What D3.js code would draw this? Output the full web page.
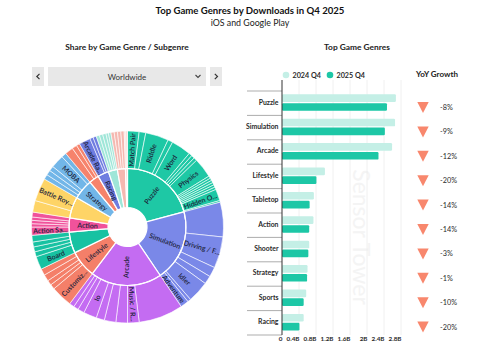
<!DOCTYPE html>
<html><head><meta charset="utf-8">
<script src="https://cdn.jsdelivr.net/npm/d3@7"></script>
<style>
html,body{margin:0;padding:0;background:#fff;}
svg{display:block;font-family:Lato,"Open Sans",sans-serif;}
</style></head>
<body>
<svg id="c" width="500" height="349"></svg>
<script>
// ---------- Bar chart data ----------
const genres = ["Puzzle","Simulation","Arcade","Lifestyle","Tabletop","Action","Shooter","Strategy","Sports","Racing"];
const downloads2024 = [2.68,2.66,2.59,1.01,0.75,0.74,0.64,0.60,0.57,0.51];
const downloads2025 = [2.47,2.42,2.27,0.81,0.65,0.64,0.62,0.59,0.51,0.41];
const yoyGrowth = [-8,-9,-12,-20,-14,-14,-3,-1,-10,-20];
const seriesNames = ["2024 Q4","2025 Q4"];
const tickValues = [0,0.4,0.8,1.2,1.6,2,2.4,2.8];
const tickLabels = ["0","0.4B","0.8B","1.2B","1.6B","2B","2.4B","2.8B"];

// ---------- Sunburst data (share, in degrees of the circle) ----------
const sunGenres = ["Puzzle","Simulation","Arcade","Lifestyle","Tabletop","Action","Shooter","Strategy","Sports","Racing","RPG","Casino","Other"];
const sunGenreLabelShown = [true,true,true,true,false,true,false,true,false,true,false,false,false];
const sunColors = ["#1ec8a5","#7a88e8","#c46cf2","#f47f69","#17c2a2","#f0529b","#fed466","#72b6e8","#f6836c","#6f7de0","#9fe6d8","#f5b8b0","#f9d6d0"];
const subPuzzle = [["Match Pair",7],["",4],["Riddle",14],["",3],["Word",12],["",2],["",2],["",2],["Physics",12],["",1.5],["",1.5],["",1.5],["",1.5],["",1.5],["",1.5],["Hidden O...",7],["",1]];
const subSimulation = [["",21],["Driving / F...",19],["",6],["",5],["Idler",13],["",2],["Adventure",5]];
const subArcade = [["",27],["Music / R...",7],["",7],["",7],["",5],["Io",8],["",4],["",3],["",3]];
const subLifestyle = [["Customiz...",13],["",3],["",3],["",4],["",4]];
const subTabletop = [["Board",8],["",3],["",3],["",3],["",4]];
const subAction = [["Action Sa...",5],["",2],["",2],["",2],["",3]];
const subShooter = [["",7],["Battle Roy...",14]];
const subStrategy = [["",3],["",3],["",3],["MOBA",8],["",3]];
const subSports = [["",5],["",3],["",2]];
const subRacing = [["Arcade Ra...",7],["",2],["",2]];
const subRPG = [["",2],["",2],["",2],["",1.5],["",1.5]];
const subCasino = [["",2],["",2],["",2],["",2]];
const subOther = [["",1],["",1]];
const subLists = [subPuzzle,subSimulation,subArcade,subLifestyle,subTabletop,subAction,subShooter,subStrategy,subSports,subRacing,subRPG,subCasino,subOther];

const svg = d3.select("#c");
const dark = "#2b2b2b";

// ---------- Titles ----------
svg.append("text").attr("x",250).attr("y",13.5).attr("text-anchor","middle")
  .attr("font-size",9.6).attr("font-weight",700).attr("fill","#111").text("Top Game Genres by Downloads in Q4 2025");
svg.append("text").attr("x",250).attr("y",26).attr("text-anchor","middle")
  .attr("font-size",8.8).attr("fill","#222").text("iOS and Google Play");
svg.append("text").attr("x",127).attr("y",49.5).attr("text-anchor","middle")
  .attr("font-size",8.4).attr("font-weight",700).attr("fill","#222").text("Share by Game Genre / Subgenre");
svg.append("text").attr("x",357).attr("y",49.5).attr("text-anchor","middle")
  .attr("font-size",8.4).attr("font-weight",700).attr("fill","#222").text("Top Game Genres");

// ---------- Dropdown ----------
const dd = svg.append("g");
dd.append("rect").attr("x",32).attr("y",67).attr("width",12).attr("height",19).attr("fill","#e8e8e8");
dd.append("rect").attr("x",48).attr("y",67).attr("width",158).attr("height",19).attr("fill","#e8e8e8");
dd.append("rect").attr("x",210).attr("y",67).attr("width",12).attr("height",19).attr("fill","#e8e8e8");
dd.append("path").attr("d","M39.5,73.8 L36.8,76.5 L39.5,79.2").attr("fill","none").attr("stroke","#333").attr("stroke-width",1.2);
dd.append("path").attr("d","M214.8,73.8 L217.5,76.5 L214.8,79.2").attr("fill","none").attr("stroke","#333").attr("stroke-width",1.2);
dd.append("path").attr("d","M195.5,75 L198,77.5 L200.5,75").attr("fill","none").attr("stroke","#444").attr("stroke-width",1.1);
dd.append("text").attr("x",127).attr("y",79.5).attr("text-anchor","middle").attr("font-size",8).attr("fill","#333").text("Worldwide");

// ---------- Sunburst ----------
const cx = 127.5, cy = 227;
const radii = [0, 19.5, 58.5, 96];
const rootData = {name:"root", children: sunGenres.map((g,i)=>({
  name:g, color:sunColors[i], showLabel:sunGenreLabelShown[i],
  children: subLists[i].map(s=>({name:s[0], value:s[1], color:sunColors[i]}))
}))};
const root = d3.hierarchy(rootData).sum(d=>d.children?0:d.value);
d3.partition().size([2*Math.PI, 3])(root);
const arc = d3.arc()
  .startAngle(d=>d.x0).endAngle(d=>d.x1)
  .innerRadius(d=>radii[d.depth]).outerRadius(d=>radii[d.depth+1]);
const sg = svg.append("g").attr("transform",`translate(${cx},${cy})`);
const nodes = root.descendants().filter(d=>d.depth>0);
sg.selectAll("path.seg").data(nodes).join("path").attr("class","seg")
  .attr("d",arc).attr("fill",d=>d.data.color)
  .attr("stroke","#fff").attr("stroke-width",d=>d.depth===1?1.2:0.6);
sg.append("circle").attr("r",radii[2]).attr("fill","none").attr("stroke","#fff").attr("stroke-width",1.2);

const labelNodes = nodes.filter(d=> d.depth===1 ? d.data.showLabel : d.data.name);
sg.selectAll("text.lab").data(labelNodes).join("text").attr("class","lab")
  .attr("transform",d=>{
    const a = (d.x0+d.x1)/2*180/Math.PI;
    const r = (radii[d.depth]+radii[d.depth+1])/2 + (d.depth===1?1:0);
    return `rotate(${a-90}) translate(${r},0) rotate(${a<180?0:180})`;
  })
  .attr("text-anchor","middle").attr("dy","0.35em")
  .attr("font-size",7).attr("font-weight",600).attr("fill","#1c1f3a")
  .text(d=>d.data.name);

// ---------- Bar chart ----------
const x = d3.scaleLinear().domain([0,3]).range([282, 409.5]);
const y = d3.scaleBand().domain(genres).range([91, 335]);
const ySub = d3.scaleBand().domain(seriesNames).range([3.3, 19.8]).paddingInner(0.14);
const barColors = ["#c4efe6","#1dc7a6"];

// watermark
svg.append("text").attr("transform","translate(353,237) rotate(90)")
  .attr("text-anchor","middle").attr("font-size",23).attr("fill","#f4f4f4").text("Sensor Tower");

// grid
svg.append("g").selectAll("line").data(tickValues.slice(1)).join("line")
  .attr("x1",d=>x(d)).attr("x2",d=>x(d)).attr("y1",80).attr("y2",335)
  .attr("stroke","#ececec").attr("stroke-width",0.8);

// category separators
svg.append("g").selectAll("line").data(d3.range(genres.length+1)).join("line")
  .attr("x1",247).attr("x2",282)
  .attr("y1",i=> i<genres.length ? y(genres[i]) : y.range()[1])
  .attr("y2",i=> i<genres.length ? y(genres[i]) : y.range()[1])
  .attr("stroke","#8a8a8a").attr("stroke-width",0.7);

// bars
const vals = [downloads2024, downloads2025];
seriesNames.forEach((s,si)=>{
  svg.append("g").selectAll("rect").data(genres).join("rect")
    .attr("x",x(0)).attr("y",g=>y(g)+ySub(s))
    .attr("width",(g,i)=>x(vals[si][i])-x(0)).attr("height",ySub.bandwidth())
    .attr("rx",1.2).attr("fill",barColors[si]);
});

// y axis line
svg.append("line").attr("x1",282).attr("x2",282).attr("y1",80).attr("y2",335)
  .attr("stroke","#333").attr("stroke-width",1);

// category labels
svg.append("g").selectAll("text").data(genres).join("text")
  .attr("x",278.5).attr("y",g=>y(g)+y.bandwidth()/2-1).attr("dy","0.35em")
  .attr("text-anchor","end").attr("font-size",6.9).attr("font-weight",700).attr("fill",dark).text(g=>g);

// x axis ticks
const xAxis = d3.axisBottom(x).tickValues(tickValues).tickSize(0).tickPadding(0)
  .tickFormat((d,i)=>tickLabels[i]);
const xa = svg.append("g").attr("transform","translate(0,337)").call(xAxis);
xa.select(".domain").remove();
xa.selectAll("text").attr("text-anchor","end").attr("dx",0).attr("dy","0.6em")
  .attr("font-size",6.3).attr("font-weight",700).attr("fill",dark).attr("font-family","Lato,sans-serif");

// legend
seriesNames.forEach((s,i)=>{
  const lx = [286,330][i];
  svg.append("circle").attr("cx",lx).attr("cy",75).attr("r",3.3).attr("fill",barColors[i]);
  svg.append("text").attr("x",lx+6.5).attr("y",75).attr("dy","0.35em")
    .attr("font-size",7.2).attr("font-weight",700).attr("fill",dark).text(s);
});
svg.append("text").attr("x",437).attr("y",74.5).attr("dy","0.35em").attr("text-anchor","middle")
  .attr("font-size",8).attr("font-weight",700).attr("fill","#222").text("YoY Growth");

// YoY triangles + text
const yg = svg.append("g").selectAll("g").data(genres).join("g")
  .attr("transform",g=>`translate(423,${y(g)+y.bandwidth()/2+4.3})`);
yg.append("path").attr("d",(g,i)=> yoyGrowth[i]<0 ? "M-5.7,-5.5 L5.7,-5.5 L0,5.5 Z" : "M-5.7,5.5 L5.7,5.5 L0,-5.5 Z")
  .attr("fill",(g,i)=> yoyGrowth[i]<0 ? "#f8876d" : "#1dc7a6");
yg.append("text").attr("x",17).attr("dy","0.35em").attr("font-size",7.3).attr("fill",dark)
  .text((g,i)=> (yoyGrowth[i]>0?"+":"")+yoyGrowth[i]+"%");
</script>
</body></html>
